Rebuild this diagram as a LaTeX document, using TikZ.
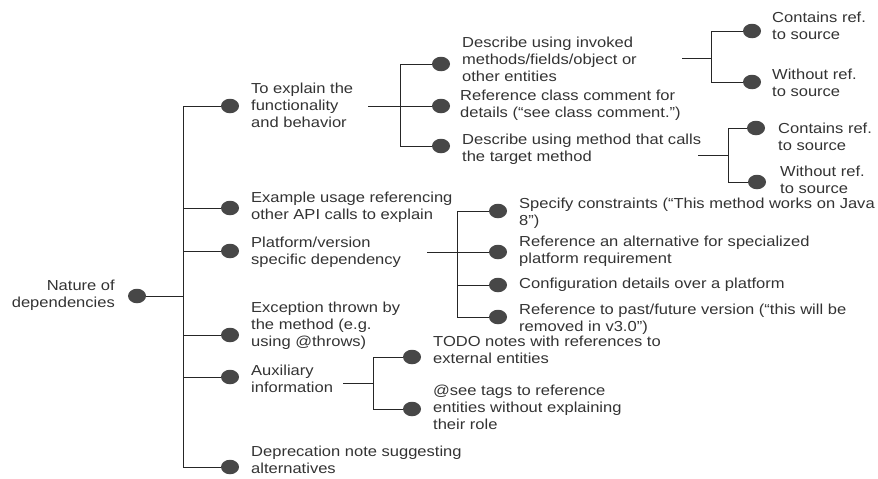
\documentclass[tikz,border=0pt]{standalone}
\usepackage{fontspec}
\setmainfont{Liberation Sans}[FakeStretch=1.14]
\usetikzlibrary{shapes.geometric}
\definecolor{dotgray}{HTML}{474747}
\definecolor{txtgray}{HTML}{333333}
\definecolor{linegray}{HTML}{262626}
\begin{document}
\begin{tikzpicture}[x=1pt,y=-1pt,
  dot/.style={ellipse,fill=dotgray,draw=none,minimum width=18pt,minimum height=14.5pt,inner sep=0pt},
  lbl/.style={anchor=west,align=left,inner sep=0pt,text=txtgray,font=\fontsize{14.5}{17}\selectfont},
  conn/.style={draw=linegray,line width=1pt}]
\useasboundingbox (0,0) rectangle (878,479);

% root
\node[dot] (root) at (137,296) {};
\node[lbl,anchor=east,align=right] (rootT) at (115,295) {Nature of\\dependencies};
\coordinate (j0) at (183,296);

% first level
\node[dot] (n1) at (230,106) {};
\node[dot] (n2) at (230,208) {};
\node[dot] (n3) at (230,251) {};
\node[dot] (n4) at (230,335) {};
\node[dot] (n5) at (230,377) {};
\node[dot] (n6) at (230,467) {};
\node[lbl] (t1) at (251,105) {To explain the\\functionality\\and behavior};
\node[lbl] (t2) at (251,207.5) {Example usage referencing\\other API calls to explain};
\node[lbl] (t3) at (251,252) {Platform/version\\specific dependency};
\node[lbl] (t4) at (251,326) {Exception thrown by\\the method (e.g.\\using @throws)};
\node[lbl] (t5) at (251,378.5) {Auxiliary\\information};
\node[lbl] (t6) at (251,459.5) {Deprecation note suggesting\\alternatives};

\draw[conn] (root) -- (j0);
\foreach \c in {n1,n2,n3,n4,n5,n6} \draw[conn] (j0) |- (\c);

% functionality and behavior
\coordinate (s1) at (368,106);
\coordinate (j1) at (400,106);
\node[dot] (a1) at (441,64) {};
\node[dot] (a2) at (441,106) {};
\node[dot] (a3) at (441,146) {};
\node[lbl] (ta1) at (462,59) {Describe using invoked\\methods/fields/object or\\other entities};
\node[lbl] (ta2) at (460,105) {Reference class comment for\\details (“see class comment.”)};
\node[lbl] (ta3) at (462,149.5) {Describe using method that calls\\the target method};
\draw[conn] (s1) -- (j1);
\foreach \c in {a1,a2,a3} \draw[conn] (j1) |- (\c);

% invoked entities
\coordinate (s2) at (682,58);
\coordinate (j2) at (711,58);
\node[dot] (b1) at (752,31) {};
\node[dot] (b2) at (752,82) {};
\node[lbl] (tb1) at (772,25.5) {Contains ref.\\to source};
\node[lbl] (tb2) at (772,82.5) {Without ref.\\to source};
\draw[conn] (s2) -- (j2);
\foreach \c in {b1,b2} \draw[conn] (j2) |- (\c);

% calling method
\coordinate (s3) at (698,155);
\coordinate (j3) at (728,155);
\node[dot] (c1) at (756,128) {};
\node[dot] (c2) at (757,182) {};
\node[lbl] (tc1) at (778,136.5) {Contains ref.\\to source};
\node[lbl] (tc2) at (780,179.5) {Without ref.\\to source};
\draw[conn] (s3) -- (j3);
\foreach \c in {c1,c2} \draw[conn] (j3) |- (\c);

% platform / version
\coordinate (s4) at (427,252);
\coordinate (j4) at (457,252);
\node[dot] (p1) at (498,211) {};
\node[dot] (p2) at (498,252) {};
\node[dot] (p3) at (498,285) {};
\node[dot] (p4) at (498,317) {};
\node[lbl] (tp1) at (519,213.5) {Specify constraints (“This method works on Java\\8”)};
\node[lbl] (tp2) at (519,251.5) {Reference an alternative for specialized\\platform requirement};
\node[lbl] (tp3) at (519,285) {Configuration details over a platform};
\node[lbl] (tp4) at (519,319.5) {Reference to past/future version (“this will be\\removed in v3.0”)};
\draw[conn] (s4) -- (j4);
\foreach \c in {p1,p2,p3,p4} \draw[conn] (j4) |- (\c);

% auxiliary information
\coordinate (s5) at (343,383);
\coordinate (j5) at (373,383);
\node[dot] (x1) at (412,357) {};
\node[dot] (x2) at (412,409) {};
\node[lbl] (tx1) at (433,349.5) {TODO notes with references to\\external entities};
\node[lbl] (tx2) at (433,407) {@see tags to reference\\entities without explaining\\their role};
\draw[conn] (s5) -- (j5);
\foreach \c in {x1,x2} \draw[conn] (j5) |- (\c);
\end{tikzpicture}
\end{document}
